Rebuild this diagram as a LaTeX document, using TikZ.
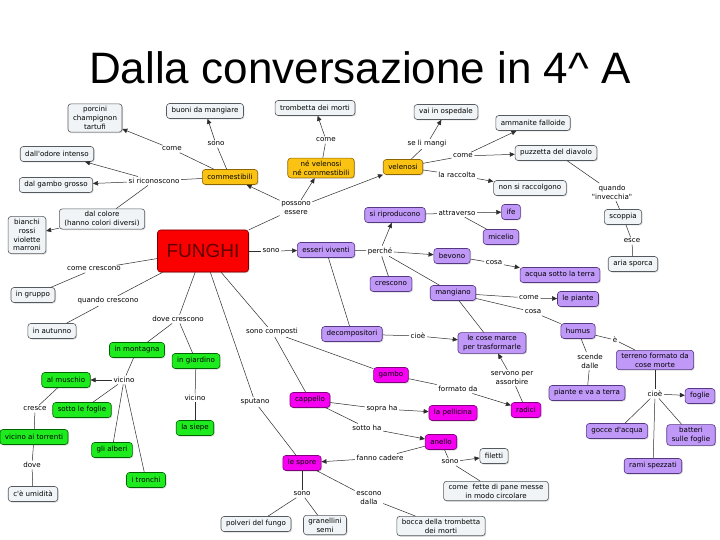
\documentclass[tikz,border=0pt]{standalone}
\usepackage{fontspec}
\setmainfont{Liberation Sans}
\newfontfamily\nf{DejaVu Sans}
\newcommand\cmfont{\nf\fontsize{7.1}{8.9}\selectfont}
\usetikzlibrary{arrows.meta,shadows}
\definecolor{gfill}{RGB}{240,244,246}
\definecolor{gdraw}{RGB}{85,90,95}
\definecolor{yfill}{RGB}{250,195,20}
\definecolor{ydraw}{RGB}{140,100,0}
\definecolor{pfill}{RGB}{192,152,248}
\definecolor{pdraw}{RGB}{85,55,130}
\definecolor{mfill}{RGB}{245,0,240}
\definecolor{mdraw}{RGB}{130,0,125}
\definecolor{grfill}{RGB}{30,235,30}
\definecolor{grdraw}{RGB}{0,100,0}
\definecolor{rfill}{RGB}{250,0,0}
\definecolor{rdraw}{RGB}{120,0,0}
\definecolor{rtext}{RGB}{95,0,0}
\definecolor{edgec}{RGB}{45,45,45}
\tikzset{
  cbox/.style={draw, rounded corners=3pt, font=\cmfont, inner xsep=5pt, inner ysep=2.5pt,
    minimum height=15pt, align=center, line width=0.6pt,
    drop shadow={shadow xshift=1pt, shadow yshift=-1pt, opacity=0.3}},
  gbox/.style={cbox, fill=gfill, draw=gdraw},
  ybox/.style={cbox, fill=yfill, draw=ydraw},
  pbox/.style={cbox, fill=pfill, draw=pdraw},
  mbox/.style={cbox, fill=mfill, draw=mdraw},
  greenbox/.style={cbox, fill=grfill, draw=grdraw},
  lab/.style={font=\cmfont, inner sep=1.5pt, align=center},
  ln/.style={draw=edgec, line width=0.5pt},
  arr/.style={ln, -{Triangle[length=5pt,width=4.5pt]}}
}
\begin{document}
\begin{tikzpicture}[x=1pt,y=-1pt]
\useasboundingbox (0,0) rectangle (720,540);
\fill[white] (0,0) rectangle (720,540);
\node[anchor=base, font=\fontsize{44}{50}\selectfont] (title) at (360,84) {Dalla conversazione in 4\textasciicircum{} A};

% gray boxes
\node[gbox] (porcini) at (95,118) {porcini\\champignon\\tartufi};
\node[gbox] (buoni) at (205,111) {buoni da mangiare};
\node[gbox] (odore) at (57,154) {dall'odore intenso};
\node[gbox] (gambogr) at (56,185) {dal gambo grosso};
\node[gbox] (colore) at (102,219) {dal colore\\(hanno colori diversi)};
\node[gbox] (bianchi) at (27,235) {bianchi\\rossi\\violette\\marroni};
\node[gbox] (trombetta) at (315,108) {trombetta dei morti};
\node[gbox] (ospedale) at (446,112) {vai in ospedale};
\node[gbox] (ammanite) at (533,123) {ammanite falloide};
\node[gbox] (puzzetta) at (556,153) {puzzetta del diavolo};
\node[gbox] (nonracc) at (530,188) {non si raccolgono};
\node[gbox] (scoppia) at (623,217) {scoppia};
\node[gbox] (aria) at (633,264) {aria sporca};
\node[gbox] (gruppo) at (33,295) {in gruppo};
\node[gbox] (autunno) at (52,331) {in autunno};
\node[gbox] (umidita) at (33,494) {c'è umidità};
\node[gbox] (polveri) at (256,524) {polveri del fungo};
\node[gbox] (granellini) at (325,525) {granellini\\semi};
\node[gbox] (bocca) at (441,526) {bocca della trombetta\\dei morti};
\node[gbox] (filetti) at (494,456) {filetti};
\node[gbox] (fette) at (496,491) {come \ fette di pane messe\\in modo circolare};

% yellow
\node[ybox] (commest) at (230,177) {commestibili};
\node[ybox] (nevel) at (321,168) {né velenosi\\né commestibili};
\node[ybox] (velenosi) at (403,167) {velenosi};

% red
\node[draw=rdraw, fill=rfill, rounded corners=3pt, line width=0.6pt, minimum width=91pt, minimum height=42pt,
  text=rtext, font=\fontsize{19}{22}\selectfont,
  drop shadow={shadow xshift=1pt, shadow yshift=-1pt, opacity=0.3}] (funghi) at (203,251) {FUNGHI};

% purple
\node[pbox] (viventi) at (326,250) {esseri viventi};
\node[pbox] (riprod) at (395,215) {si riproducono};
\node[pbox] (ife) at (511,212) {ife};
\node[pbox] (micelio) at (501,237) {micelio};
\node[pbox] (bevono) at (452,256) {bevono};
\node[pbox] (acqua) at (560,275) {acqua sotto la terra};
\node[pbox] (crescono) at (391,284) {crescono};
\node[pbox] (mangiano) at (453,293) {mangiano};
\node[pbox] (piante) at (578,299) {le piante};
\node[pbox] (humus) at (578,331) {humus};
\node[pbox] (terreno) at (655,360) {terreno formato da\\cose morte};
\node[pbox] (decomp) at (352,334) {decompositori};
\node[pbox] (marce) at (492,343) {le cose marce\\per trasformarle};
\node[pbox] (pianteterra) at (587,393) {piante e va a terra};
\node[pbox] (foglie) at (700,396) {foglie};
\node[pbox] (gocce) at (617,431) {gocce d'acqua};
\node[pbox] (batteri) at (691,435) {batteri\\sulle foglie};
\node[pbox] (rami) at (653,466) {rami spezzati};

% magenta
\node[mbox] (gambo) at (391,375) {gambo};
\node[mbox] (cappello) at (310,400) {cappello};
\node[mbox] (pellicina) at (453,413) {la pellicina};
\node[mbox] (radici) at (526,410) {radici};
\node[mbox] (anello) at (441,442) {anello};
\node[mbox] (spore) at (302,463) {le spore};

% green
\node[greenbox] (montagna) at (137,350) {in montagna};
\node[greenbox] (giardino) at (196,361) {in giardino};
\node[greenbox] (muschio) at (66,380) {al muschio};
\node[greenbox] (sottofoglie) at (82,410) {sotto le foglie};
\node[greenbox] (torrenti) at (34,437) {vicino ai torrenti};
\node[greenbox] (alberi) at (112,450) {gli alberi};
\node[greenbox] (tronchi) at (146,480) {i tronchi};
\node[greenbox] (siepe) at (195,428) {la siepe};

% labels
\node[lab] (lcome1) at (172,149) {come};
\node[lab] (lsono1) at (216,144) {sono};
\node[lab] (lricon) at (154,181) {si riconoscono};
\node[lab] (lcome2) at (326,140) {come};
\node[lab] (lmangi) at (427,144) {se li mangi};
\node[lab] (lcome3) at (463,156) {come};
\node[lab] (lracc) at (457,175) {la raccolta};
\node[lab] (linvec) at (612,192) {quando\\"invecchia"};
\node[lab] (lesce) at (632,241) {esce};
\node[lab] (lpossono) at (296,208) {possono\\essere};
\node[lab] (lattr) at (457,213) {attraverso};
\node[lab] (lsono2) at (271,251) {sono};
\node[lab] (lperche) at (380,251) {perché};
\node[lab] (lcosa1) at (494,263) {cosa};
\node[lab] (lcome4) at (529,298) {come};
\node[lab] (lcosa2) at (533,312) {cosa};
\node[lab] (le) at (615,340) {è};
\node[lab] (lscende) at (590,361) {scende\\dalle};
\node[lab] (lcioe1) at (418,336) {cioè};
\node[lab] (lcioe2) at (655,394) {cioè};
\node[lab] (lservono) at (512,378) {servono per\\assorbire};
\node[lab] (lcomposti) at (272,332) {sono composti};
\node[lab] (lformato) at (458,389) {formato da};
\node[lab] (lsputano) at (255,402) {sputano};
\node[lab] (lsopra) at (382,409) {sopra ha};
\node[lab] (lsotto) at (367,428) {sotto ha};
\node[lab] (lfanno) at (380,458) {fanno cadere};
\node[lab] (lsono3) at (450,462) {sono};
\node[lab] (lsono4) at (302,494) {sono};
\node[lab] (lescono) at (369,498) {escono\\dalla};
\node[lab] (lcomecr) at (94,269) {come crescono};
\node[lab] (lquando) at (108,301) {quando crescono};
\node[lab] (ldove) at (178,319) {dove crescono};
\node[lab] (lvicino1) at (124,380) {vicino};
\node[lab] (lcresce) at (35,409) {cresce};
\node[lab] (ldove2) at (32,465) {dove};
\node[lab] (lvicino2) at (195,398) {vicino};

% connectors
\draw[ln] (commest) -- (lcome1); \draw[arr] (lcome1) -- (porcini);
\draw[ln] (commest) -- (lsono1); \draw[arr] (lsono1) -- (buoni);
\draw[ln] (commest) -- (lricon);
\draw[arr] (lricon) -- (odore);
\draw[arr] (lricon) -- (gambogr);
\draw[ln] (lricon) -- (colore);
\draw[arr] (colore) -- (bianchi);
\draw[ln] (funghi) -- (lpossono);
\draw[arr] (lpossono) -- (commest);
\draw[arr] (lpossono) -- (nevel);
\draw[arr] (lpossono) -- (velenosi);
\draw[ln] (nevel) -- (lcome2); \draw[arr] (lcome2) -- (trombetta);
\draw[ln] (velenosi) -- (lmangi); \draw[arr] (lmangi) -- (ospedale);
\draw[ln] (velenosi) -- (lcome3); \draw[arr] (lcome3) -- (ammanite); \draw[arr] (lcome3) -- (puzzetta);
\draw[ln] (velenosi) -- (lracc); \draw[arr] (lracc) -- (nonracc);
\draw[ln] (puzzetta) -- (linvec); \draw[ln] (linvec) -- (scoppia);
\draw[ln] (scoppia) -- (lesce); \draw[ln] (lesce) -- (aria);
\draw[ln] (funghi) -- (lsono2); \draw[arr] (lsono2) -- (viventi);
\draw[ln] (viventi) -- (lperche);
\draw[arr] (lperche) -- (bevono);
\draw[arr] (lperche) -- (riprod);
\draw[ln] (lperche) -- (crescono);
\draw[ln] (lperche) -- (mangiano);
\draw[ln] (riprod) -- (lattr); \draw[arr] (lattr) -- (ife); \draw[ln] (lattr) -- (micelio);
\draw[ln] (bevono) -- (lcosa1); \draw[arr] (lcosa1) -- (acqua);
\draw[ln] (mangiano) -- (lcome4); \draw[arr] (lcome4) -- (piante);
\draw[ln] (mangiano) -- (lcosa2); \draw[ln] (lcosa2) -- (humus);
\draw[ln] (mangiano) -- (marce);
\draw[ln] (viventi) -- (decomp);
\draw[ln] (decomp) -- (lcioe1); \draw[arr] (lcioe1) -- (marce);
\draw[ln] (humus) -- (le); \draw[ln] (le) -- (terreno);
\draw[ln] (humus) -- (lscende); \draw[ln] (lscende) -- (pianteterra);
\draw[ln] (terreno) -- (lcioe2);
\draw[arr] (lcioe2) -- (foglie);
\draw[ln] (lcioe2) -- (gocce);
\draw[ln] (lcioe2) -- (batteri);
\draw[ln] (lcioe2) -- (rami);
\draw[ln] (radici) -- (lservono); \draw[arr] (lservono) -- (marce);
\draw[ln] (funghi) -- (lcomposti);
\draw[ln] (lcomposti) -- (gambo);
\draw[ln] (lcomposti) -- (cappello);
\draw[ln] (gambo) -- (lformato); \draw[arr] (lformato) -- (radici);
\draw[ln] (funghi) -- (lsputano); \draw[ln] (lsputano) -- (spore);
\draw[ln] (cappello) -- (lsopra); \draw[arr] (lsopra) -- (pellicina);
\draw[ln] (cappello) -- (lsotto); \draw[arr] (lsotto) -- (anello);
\draw[ln] (anello) -- (lfanno); \draw[arr] (lfanno) -- (spore);
\draw[ln] (anello) -- (lsono3); \draw[arr] (lsono3) -- (filetti); \draw[ln] (lsono3) -- (fette);
\draw[ln] (spore) -- (lsono4); \draw[ln] (lsono4) -- (polveri); \draw[ln] (lsono4) -- (granellini);
\draw[ln] (spore) -- (lescono); \draw[ln] (lescono) -- (bocca);
\draw[ln] (funghi) -- (lcomecr); \draw[ln] (lcomecr) -- (gruppo);
\draw[ln] (funghi) -- (lquando); \draw[ln] (lquando) -- (autunno);
\draw[ln] (funghi) -- (ldove); \draw[ln] (ldove) -- (montagna); \draw[ln] (ldove) -- (giardino);
\draw[ln] (montagna) -- (lvicino1);
\draw[arr] (lvicino1) -- (muschio);
\draw[ln] (lvicino1) -- (sottofoglie);
\draw[ln] (lvicino1) -- (alberi);
\draw[ln] (lvicino1) -- (tronchi);
\draw[ln] (muschio) -- (lcresce); \draw[ln] (lcresce) -- (torrenti);
\draw[ln] (torrenti) -- (ldove2); \draw[ln] (ldove2) -- (umidita);
\draw[ln] (giardino) -- (lvicino2); \draw[ln] (lvicino2) -- (siepe);
\end{tikzpicture}
\end{document}
